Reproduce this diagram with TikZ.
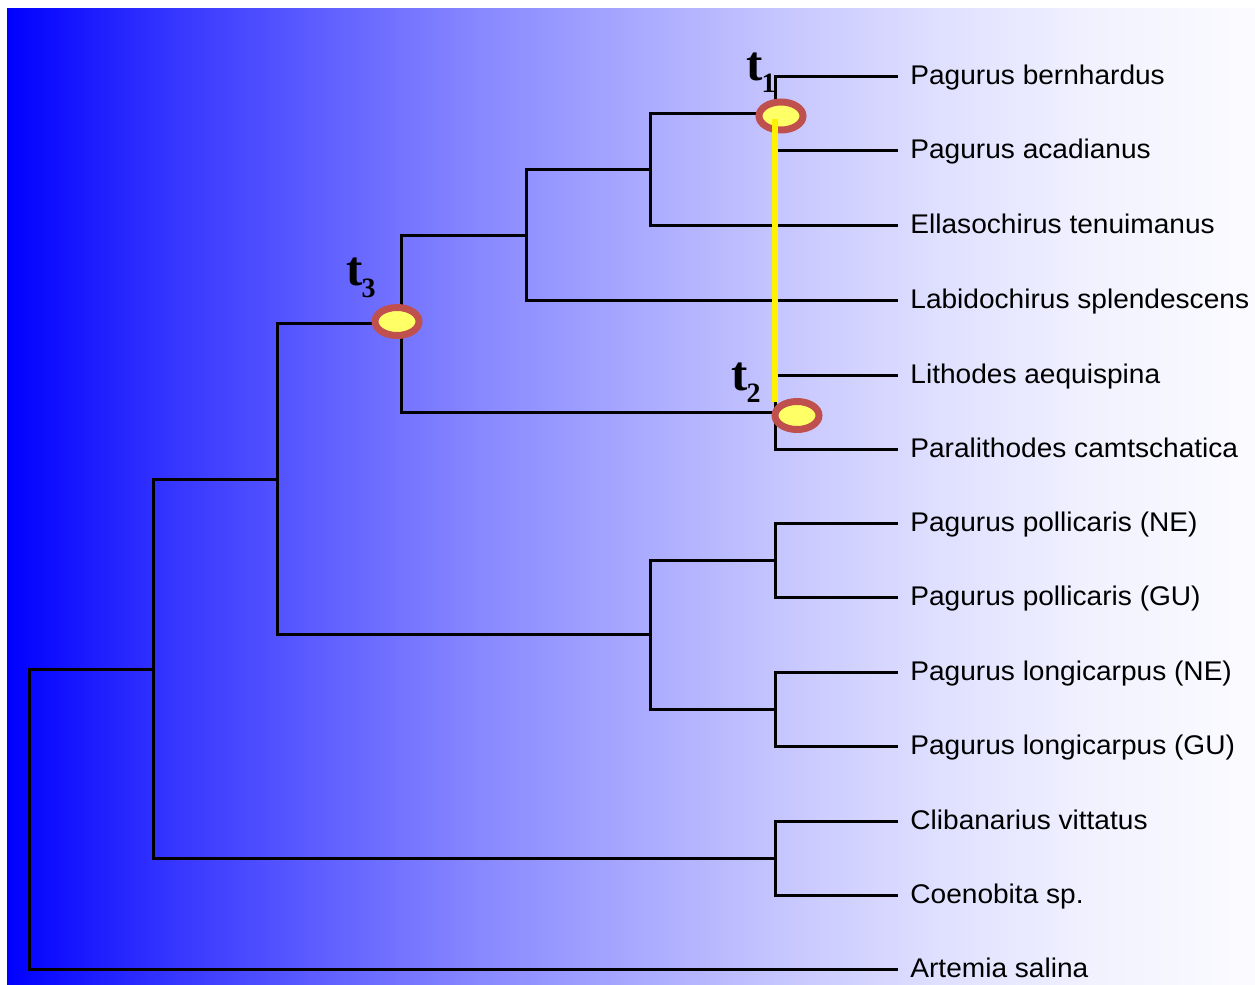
\documentclass[tikz,border=0pt]{standalone}
\usepackage{fontspec}
\usetikzlibrary{shapes.geometric}
\newfontfamily\taxonfont[FakeStretch=1.04]{Liberation Sans}
\newfontfamily\timefont{Liberation Serif}

% background fade, blue to near white
\definecolor{gb0}{RGB}{0,0,255}
\definecolor{gb1}{RGB}{51,51,255}
\definecolor{gb2}{RGB}{94,94,255}
\definecolor{gb3}{RGB}{135,135,255}
\definecolor{gb4}{RGB}{168,168,255}
\definecolor{gb5}{RGB}{199,199,255}
\definecolor{gb6}{RGB}{224,224,255}
\definecolor{gb7}{RGB}{242,242,255}
\definecolor{gb8}{RGB}{251,251,255}
\pgfdeclarehorizontalshading{bluefade}{100bp}{color(0bp)=(gb0); color(25bp)=(gb0);
  color(31.25bp)=(gb1); color(37.5bp)=(gb2); color(43.75bp)=(gb3); color(50bp)=(gb4);
  color(56.25bp)=(gb5); color(62.5bp)=(gb6); color(68.75bp)=(gb7); color(75bp)=(gb8);
  color(100bp)=(gb8)}

\definecolor{ringred}{RGB}{192,80,77}
\definecolor{ringfill}{RGB}{255,255,102}

\newcommand\timelabel[1]{{\fontsize{24.5}{24.5}\selectfont t}\kern-0.6pt\raisebox{-6pt}{\fontsize{14}{14}\selectfont #1}}

\begin{document}
\begin{tikzpicture}[x=0.5pt,y=-0.5pt,
  branch/.style={line width=1.5pt, line join=miter},
  taxon/.style={anchor=base west, inner sep=0pt, xshift=6pt, yshift=-4.4pt,
    font=\taxonfont\fontsize{13.5}{15}\selectfont},
  ring/.style={ellipse, draw=ringred, fill=ringfill, line width=3.5pt,
    minimum width=22pt, minimum height=14pt, inner sep=0pt},
  tlab/.style={anchor=base west, inner sep=0pt, font=\timefont\bfseries},
  link/.style={yellow, line width=3pt}]

\useasboundingbox (0,0) rectangle (1255,985);
\shade[shading=bluefade] (7,8) rectangle (1255,985);

% leaf ends
\coordinate (a1) at (898,76);
\coordinate (a2) at (898,150);
\coordinate (a3) at (898,225);
\coordinate (a4) at (898,300);
\coordinate (a5) at (898,375);
\coordinate (a6) at (898,449);
\coordinate (a7) at (898,523);
\coordinate (a8) at (898,597);
\coordinate (a9) at (898,672);
\coordinate (a10) at (898,746);
\coordinate (a11) at (898,821);
\coordinate (a12) at (898,895);
\coordinate (a13) at (898,969);

% internal nodes
\coordinate (n1) at (775,113);
\coordinate (n2) at (650,169);
\coordinate (n3) at (526,235);
\coordinate (n5) at (775,412);
\coordinate (n4) at (401,323);
\coordinate (n6) at (775,560);
\coordinate (n7) at (775,709);
\coordinate (n8) at (650,634);
\coordinate (n9) at (277,479);
\coordinate (n10) at (775,858);
\coordinate (n11) at (153,669);
\coordinate (root) at (29,819);

% branches
\draw[branch] (n1) |- (a1);
\draw[branch] (n1) |- (a2);
\draw[branch] (n2) |- (n1);
\draw[branch] (n2) |- (a3);
\draw[branch] (n3) |- (n2);
\draw[branch] (n3) |- (a4);
\draw[branch] (n5) |- (a5);
\draw[branch] (n5) |- (a6);
\draw[branch] (n4) |- (n3);
\draw[branch] (n4) |- (n5);
\draw[branch] (n6) |- (a7);
\draw[branch] (n6) |- (a8);
\draw[branch] (n7) |- (a9);
\draw[branch] (n7) |- (a10);
\draw[branch] (n8) |- (n6);
\draw[branch] (n8) |- (n7);
\draw[branch] (n9) |- (n4);
\draw[branch] (n9) |- (n8);
\draw[branch] (n10) |- (a11);
\draw[branch] (n10) |- (a12);
\draw[branch] (n11) |- (n9);
\draw[branch] (n11) |- (n10);
\draw[branch] (root) |- (n11);
\draw[branch] (root) |- (a13);

% taxon names
\node[taxon] (l1) at (a1) {Pagurus bernhardus};
\node[taxon] (l2) at (a2) {Pagurus acadianus};
\node[taxon] (l3) at (a3) {Ellasochirus tenuimanus};
\node[taxon] (l4) at (a4) {Labidochirus splendescens};
\node[taxon] (l5) at (a5) {Lithodes aequispina};
\node[taxon] (l6) at (a6) {Paralithodes camtschatica};
\node[taxon] (l7) at (a7) {Pagurus pollicaris (NE)};
\node[taxon] (l8) at (a8) {Pagurus pollicaris (GU)};
\node[taxon] (l9) at (a9) {Pagurus longicarpus (NE)};
\node[taxon] (l10) at (a10) {Pagurus longicarpus (GU)};
\node[taxon] (l11) at (a11) {Clibanarius vittatus};
\node[taxon] (l12) at (a12) {Coenobita sp.};
\node[taxon] (l13) at (a13) {Artemia salina};

% divergence time markers
\node[ring] (e1) at (781,116) {};
\node[ring] (e2) at (797,415.5) {};
\node[ring] (e3) at (397,321.5) {};

\coordinate (y1) at (775,119);
\coordinate (y2) at (775,402);
\draw[link] (y1) -- (y2);

\node[tlab] (t1) at (746,80) {\timelabel{1}};
\node[tlab] (t2) at (731,390) {\timelabel{2}};
\node[tlab] (t3) at (346,285) {\timelabel{3}};
\end{tikzpicture}
\end{document}
